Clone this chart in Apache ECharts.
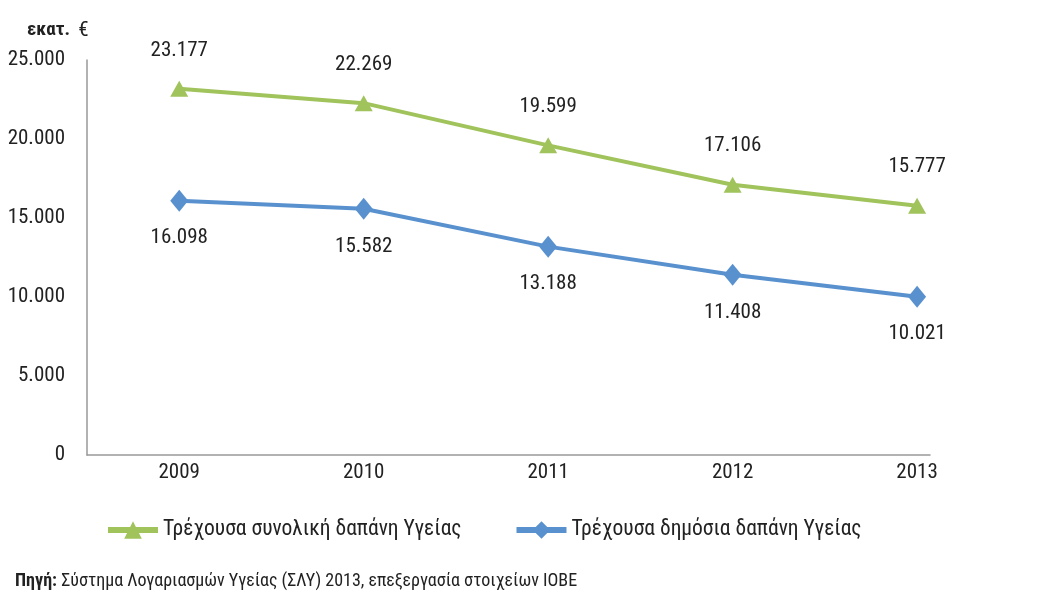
<!DOCTYPE html>
<html>
<head>
<meta charset="utf-8">
<script src="https://cdn.jsdelivr.net/npm/echarts@6/dist/echarts.min.js"></script>
<style>
  html, body { margin: 0; padding: 0; background: #fff; }
  #chart { width: 1048px; height: 592px; }
</style>
</head>
<body>
<div id="chart"></div>
<script>
const years = [2009, 2010, 2011, 2012, 2013];
const totalSpend = [23177, 22269, 19599, 17106, 15777];
const publicSpend = [16098, 15582, 13188, 11408, 10021];
const totalName = "Τρέχουσα συνολική δαπάνη Υγείας";
const publicName = "Τρέχουσα δημόσια δαπάνη Υγείας";

const font = "'Liberation Sans Narrow', 'Roboto Condensed', Roboto, sans-serif";
const green = "#a0c35c";
const blue = "#5991cf";

function fmt(v) {
  return String(Math.round(v)).replace(/\B(?=(\d{3})+(?!\d))/g, ".");
}

let myChart = echarts.init(document.getElementById("chart"));

let option = {
  backgroundColor: "#fff",
  textStyle: { fontFamily: font },
  title: [
    {
      text: "{b|εκατ.}  {r|€}",
      left: 22,
      top: 15,
      textStyle: {
        fontWeight: "normal",
        rich: {
          b: { fontFamily: font, fontSize: 19, fontWeight: "bold", color: "#222" },
          r: { fontFamily: font, fontSize: 21, fontWeight: "normal", color: "#222" },
        },
      },
    },
    {
      text: "{b|Πηγή:} {r|Σύστημα Λογαριασμών Υγείας (ΣΛΥ) 2013, επεξεργασία στοιχείων ΙΟΒΕ}",
      left: 10,
      top: 567,
      textStyle: {
        fontWeight: "normal",
        rich: {
          b: { fontFamily: font, fontSize: 18, fontWeight: "bold", color: "#222" },
          r: { fontFamily: font, fontSize: 18, fontWeight: "normal", color: "#222" },
        },
      },
    },
  ],
  legend: {
    left: 100,
    top: 514,
    itemWidth: 50,
    itemHeight: 22,
    itemGap: 52,
    lineStyle: { width: 6 },
    textStyle: { fontFamily: font, fontSize: 21.5, color: "#222" },
    data: [totalName, publicName],
  },
  grid: { left: 87, top: 60, width: 843, height: 395 },
  xAxis: {
    type: "value",
    min: 2008.5,
    max: 2013.07,
    interval: 0.5,
    splitLine: { show: false },
    axisTick: { show: false },
    axisLine: { show: true, lineStyle: { color: "#999", width: 1.5 } },
    axisLabel: {
      margin: 7,
      fontSize: 21,
      color: "#222",
      fontFamily: font,
      formatter: function (v) {
        return Number.isInteger(v) ? String(v) : "";
      },
    },
  },
  yAxis: {
    type: "value",
    min: 0,
    max: 25000,
    interval: 5000,
    splitLine: { show: false },
    axisTick: { show: false },
    axisLine: { show: true, lineStyle: { color: "#999", width: 1.5 } },
    axisLabel: { margin: 22, fontSize: 21, color: "#222", fontFamily: font, formatter: fmt },
  },
  series: [
    {
      name: totalName,
      type: "line",
      data: years.map((y, i) => [y, totalSpend[i]]),
      symbol: "triangle",
      symbolSize: [18, 16],
      lineStyle: { color: green, width: 4 },
      itemStyle: { color: green },
      label: {
        show: true,
        position: "top",
        distance: 20,
        fontSize: 21,
        color: "#222",
        fontFamily: font,
        formatter: (p) => fmt(p.value[1]),
      },
    },
    {
      name: publicName,
      type: "line",
      data: years.map((y, i) => [y, publicSpend[i]]),
      symbol: "diamond",
      symbolSize: [18, 22],
      lineStyle: { color: blue, width: 4 },
      itemStyle: { color: blue },
      label: {
        show: true,
        position: "bottom",
        distance: 16,
        fontSize: 21,
        color: "#222",
        fontFamily: font,
        formatter: (p) => fmt(p.value[1]),
      },
    },
  ],
};

myChart.setOption(option);
</script>
</body>
</html>
